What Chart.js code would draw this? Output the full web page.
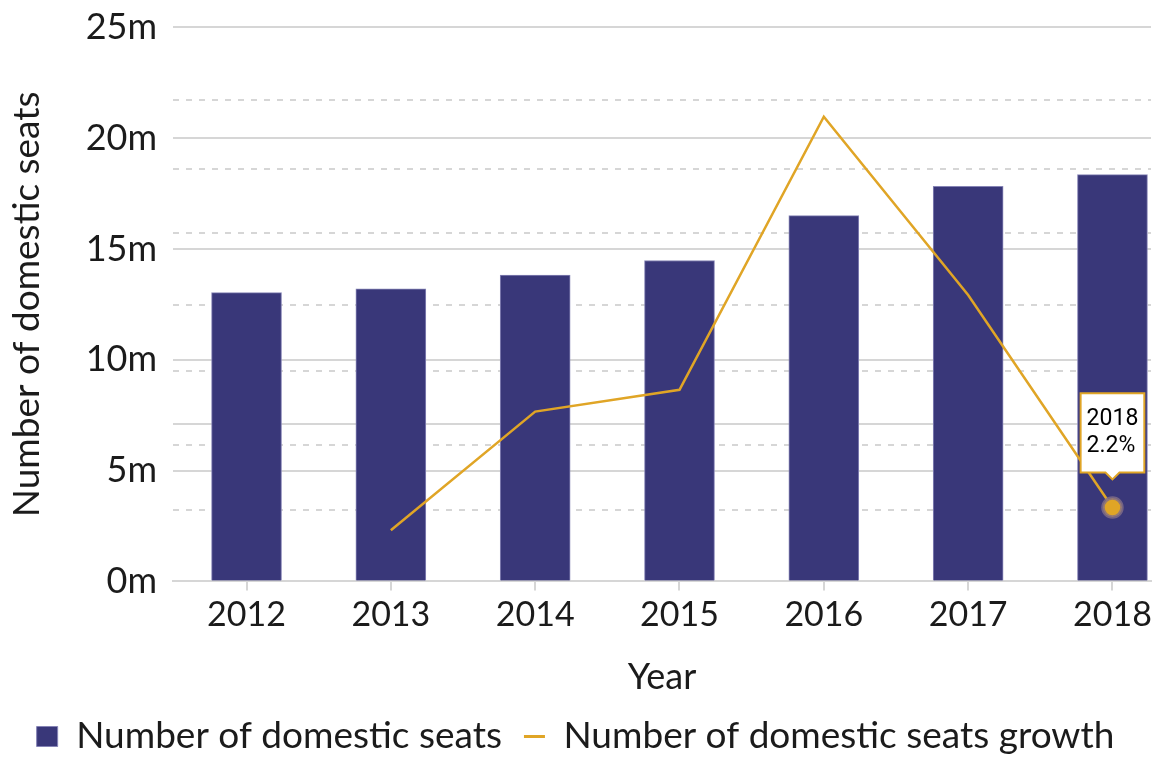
<!DOCTYPE html>
<html>
<head>
<meta charset="utf-8">
<script src="https://cdn.jsdelivr.net/npm/chart.js@4.4.1/dist/chart.umd.min.js"></script>
<style>
  html, body { margin: 0; padding: 0; background: #fff; }
</style>
</head>
<body>
<canvas id="chart" width="1170" height="765"></canvas>
<script>
// data
const years = ['2012', '2013', '2014', '2015', '2016', '2017', '2018'];
const seats = [13.03, 13.2, 13.82, 14.48, 16.5, 17.83, 18.35];   // millions
const growth = [null, 1.52, 5.05, 5.7, 13.82, 8.52, 2.2];       // %
const seatTicks = [0, 5, 10, 15, 20, 25];
const seatExtraGrid = [7.11];
const growthGrid = [2.13, 4.06, 6.26, 8.23, 10.37, 12.28, 14.32];

const NAVY = '#393779';
const GOLD = '#e0a526';
const GRID = '#d6d6d6';
const TEXT = '#1b1b1b';
const FONT = 'Lato, "Open Sans", sans-serif';

const ctx = document.getElementById('chart').getContext('2d');

const chart = new Chart(ctx, {
    type: 'bar',
    data: {
        datasets: [{
            label: 'Number of domestic seats',
            data: years.map((y, i) => ({ x: i, y: seats[i] })),
            backgroundColor: NAVY,
            borderColor: '#8583b5',
            borderWidth: 1,
            barThickness: 70,
            yAxisID: 'y',
            order: 2
        }, {
            type: 'line',
            label: 'Number of domestic seats growth',
            data: years.map((y, i) => ({ x: i, y: growth[i] })),
            borderColor: GOLD,
            backgroundColor: GOLD,
            borderWidth: 2.5,
            tension: 0,
            pointRadius: 0,
            pointHoverRadius: 9.5,
            pointHoverBackgroundColor: GOLD,
            pointHoverBorderColor: 'rgba(130,110,135,0.8)',
            pointHoverBorderWidth: 3.5,
            yAxisID: 'y1',
            order: 1
        }]
    },
    options: {
        responsive: false,
        animation: false,
        events: [],
        layout: { padding: { top: 0, right: 19, left: 0, bottom: 0 } },
        scales: {
            x: {
                type: 'linear',
                min: -0.5095,
                max: 6.267,
                offset: false,
                afterBuildTicks: s => { s.ticks = years.map((y, i) => ({ value: i })); },
                afterFit: s => { s.height = 114.6; s.paddingLeft = 0; s.paddingRight = 0; },
                grid: { offset: false, drawOnChartArea: false, drawTicks: true, tickLength: 9, tickColor: GRID, lineWidth: 2 },
                border: { display: true, color: GRID, width: 2 },
                ticks: {
                    callback: v => years[v],
                    color: TEXT,
                    font: { family: FONT, size: 34 },
                    padding: 4,
                    maxRotation: 0,
                    autoSkip: false
                },
                title: {
                    display: true,
                    text: 'Year',
                    color: TEXT,
                    font: { family: FONT, size: 36, lineHeight: 1 },
                    padding: { top: 0, bottom: 1 }
                }
            },
            y: {
                position: 'left',
                min: 0,
                max: 25,
                afterBuildTicks: s => {
                    s.ticks = seatTicks.concat(seatExtraGrid).sort((a, b) => a - b).map(v => ({ value: v }));
                },
                afterFit: s => { s.width = 173; s.paddingTop = 27.3; s.paddingBottom = 0; },
                grid: { color: GRID, lineWidth: 2, drawTicks: false },
                border: { display: false },
                ticks: {
                    callback: v => seatTicks.includes(v) ? v + 'm' : '',
                    color: TEXT,
                    font: { family: FONT, size: 36 },
                    padding: 16
                },
                title: {
                    display: true,
                    text: 'Number of domestic seats',
                    color: TEXT,
                    font: { family: FONT, size: 37 },
                    padding: { top: 5, bottom: 0 }
                }
            },
            y1: {
                position: 'right',
                min: 0,
                max: 16.48,
                afterBuildTicks: s => { s.ticks = growthGrid.map(v => ({ value: v })); },
                afterFit: s => { s.width = 0; s.paddingTop = 0; s.paddingBottom = 0; },
                grid: { color: GRID, lineWidth: 2, drawTicks: false },
                border: { display: false, dash: [6, 7] },
                ticks: { display: false }
            }
        },
        plugins: {
            legend: {
                position: 'bottom',
                align: 'center',
                labels: {
                    usePointStyle: true,
                    boxHeight: 20,
                    pointStyleWidth: 21,
                    color: TEXT,
                    font: { family: FONT, size: 37 },
                    padding: 22,
                    sort: (a, b) => a.datasetIndex - b.datasetIndex,
                    generateLabels: c => {
                        const items = Chart.defaults.plugins.legend.labels.generateLabels(c);
                        items.forEach(it => {
                            it.pointStyle = it.datasetIndex === 0 ? 'rect' : 'line';
                            if (it.datasetIndex === 1) it.lineWidth = 3;
                        });
                        return items;
                    }
                }
            },
            tooltip: {
                enabled: true,
                yAlign: 'bottom',
                xAlign: 'center',
                backgroundColor: '#fff',
                borderColor: GOLD,
                borderWidth: 2,
                cornerRadius: 0,
                caretSize: 7,
                caretPadding: 28,
                displayColors: false,
                padding: { top: 12, bottom: 12, left: 6, right: 6 },
                titleColor: '#000',
                bodyColor: '#000',
                titleFont: { family: 'Roboto, sans-serif', size: 23, weight: 'normal' },
                bodyFont: { family: 'Roboto, sans-serif', size: 23 },
                titleMarginBottom: 0,
                callbacks: {
                    title: items => years[items[0].dataIndex],
                    label: item => item.parsed.y.toFixed(1) + '%'
                }
            }
        }
    }
});

// show the 2018 growth tooltip as in the picture
const active = [{ datasetIndex: 1, index: 6 }];
chart.setActiveElements(active);
chart.tooltip.setActiveElements(active, { x: 0, y: 0 });
chart.update();
</script>
</body>
</html>
